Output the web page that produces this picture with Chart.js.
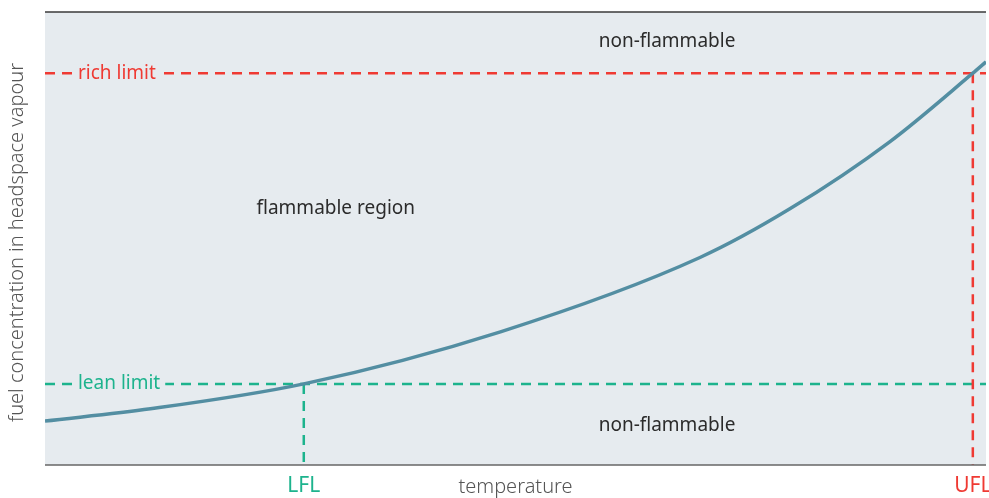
<!DOCTYPE html>
<html>
<head>
<meta charset="utf-8">
<script src="https://cdn.jsdelivr.net/npm/chart.js@4/dist/chart.umd.min.js"></script>
<style>
  html, body { margin: 0; padding: 0; background: #ffffff; }
  #wrap { width: 989px; height: 498px; position: relative; }
</style>
</head>
<body>
<div id="wrap"><canvas id="c" width="989" height="498"></canvas></div>
<script>
// ---- data ----
const temperature   = [0, 11.2, 27.5, 48.4, 69.6, 79.2, 89.8, 98.6, 100];
const concentration = [9.7, 12.4, 17.9, 29.4, 45.8, 56.6, 71.4, 86.5, 89.0];
const leanLimit = 17.9;
const richLimit = 86.5;
const lflTemp = 27.5;
const uflTemp = 98.6;
const tickLabels = ['LFL', 'UFL'];
const regionLabels = ['non-flammable', 'flammable region', 'non-flammable'];
const limitLabels = ['rich limit', 'lean limit'];
const axisTitles = ['temperature', 'fuel concentration in headspace vapour'];

const RED = '#ef3a33';
const GREEN = '#1db38d';
const CURVE = '#538ea2';
const BG = '#e6ebef';
const TEXT = '#2b2b2b';
const GREY = '#555555';
const FONT = '"Noto Sans", sans-serif';

const curvePts = temperature.map((t, i) => ({x: t, y: concentration[i]}));
const richPts = [{x: 0, y: richLimit}, {x: 100, y: richLimit}];
const richVert = [{x: uflTemp, y: richLimit}, {x: uflTemp, y: 0}];
const leanPts = [{x: 0, y: leanLimit}, {x: 100, y: leanLimit}];
const leanVert = [{x: lflTemp, y: leanLimit}, {x: lflTemp, y: 0}];

const decor = {
  id: 'decor',
  beforeDraw(chart) {
    const {ctx, chartArea: a} = chart;
    ctx.save();
    ctx.fillStyle = BG;
    ctx.fillRect(a.left, a.top, a.right - a.left, a.bottom - a.top);
    ctx.restore();
  },
  afterDatasetsDraw(chart) {
    const {ctx, chartArea: a, scales} = chart;
    const xs = scales.x, ys = scales.y;
    ctx.save();
    // borders top & bottom
    ctx.strokeStyle = '#3a3a3a';
    ctx.lineWidth = 1.5;
    ctx.beginPath();
    ctx.moveTo(a.left, a.top); ctx.lineTo(a.right, a.top);
    ctx.stroke();
    ctx.strokeStyle = '#666666';
    ctx.beginPath();
    ctx.moveTo(a.left, a.bottom); ctx.lineTo(a.right, a.bottom);
    ctx.stroke();

    // limit labels with background boxes
    ctx.font = '19px ' + FONT;
    ctx.textBaseline = 'middle';
    ctx.textAlign = 'left';
    const lx = xs.getPixelForValue(3.5);
    [[limitLabels[0], richLimit, RED], [limitLabels[1], leanLimit, GREEN]].forEach(([t, v, c]) => {
      const y = ys.getPixelForValue(v);
      const w = ctx.measureText(t).width;
      ctx.fillStyle = BG;
      ctx.fillRect(lx - 5, y - 9, w + 10, 18);
      ctx.fillStyle = c;
      ctx.fillText(t, lx, y);
    });

    // region labels
    ctx.fillStyle = TEXT;
    ctx.textAlign = 'center';
    ctx.fillText(regionLabels[0], xs.getPixelForValue(66.1), ys.getPixelForValue(93.5));
    ctx.fillText(regionLabels[1], xs.getPixelForValue(30.9), ys.getPixelForValue(56.5));
    ctx.fillText(regionLabels[2], xs.getPixelForValue(66.1), ys.getPixelForValue(8.8));

    // tick labels LFL / UFL
    ctx.font = '21px ' + FONT;
    ctx.fillStyle = GREEN;
    ctx.fillText(tickLabels[0], xs.getPixelForValue(lflTemp), a.bottom + 21);
    ctx.fillStyle = RED;
    ctx.fillText(tickLabels[1], xs.getPixelForValue(uflTemp), a.bottom + 21);

    // axis titles
    ctx.font = '300 20px ' + FONT;
    ctx.fillStyle = GREY;
    ctx.fillText(axisTitles[0], (a.left + a.right) / 2, a.bottom + 22);
    ctx.save();
    ctx.translate(17, (a.top + a.bottom) / 2 + 4);
    ctx.rotate(-Math.PI / 2);
    ctx.fillText(axisTitles[1], 0, 0);
    ctx.restore();
    ctx.restore();
  }
};

const dashed = (pts, color) => ({
  data: pts, showLine: true, borderColor: color, borderWidth: 2.5, borderDash: [10, 7],
  pointRadius: 0, fill: false, tension: 0, order: 2
});

new Chart(document.getElementById('c'), {
  type: 'scatter',
  data: {
    datasets: [
      { data: curvePts, showLine: true, borderColor: CURVE, borderWidth: 3.5,
        pointRadius: 0, cubicInterpolationMode: 'monotone', fill: false, order: 1 },
      dashed(richPts, RED),
      dashed(richVert, RED),
      dashed(leanPts, GREEN),
      dashed(leanVert, GREEN)
    ]
  },
  options: {
    responsive: false,
    animation: false,
    devicePixelRatio: 1,
    layout: { padding: { left: 45, right: 3, top: 12, bottom: 33 } },
    plugins: { legend: { display: false }, tooltip: { enabled: false } },
    scales: {
      x: { type: 'linear', min: 0, max: 100, display: false },
      y: { type: 'linear', min: 0, max: 100, display: false }
    }
  },
  plugins: [decor]
});
</script>
</body>
</html>
